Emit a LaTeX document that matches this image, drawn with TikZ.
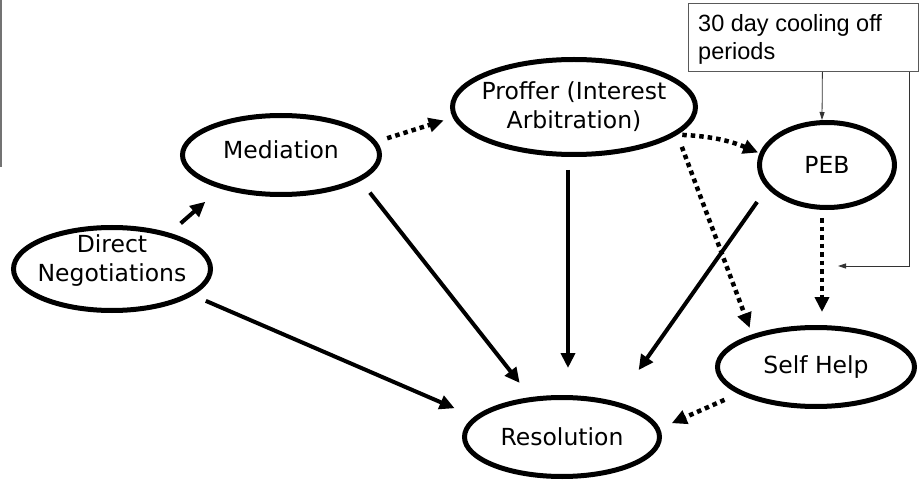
\documentclass[tikz,border=0pt]{standalone}
\usepackage{fontspec}
\newfontfamily\ovalfont{DejaVu Sans}
\newfontfamily\notefont{Liberation Sans}
\usetikzlibrary{shapes.geometric,arrows.meta,calc}

\begin{document}
\begin{tikzpicture}[x=1pt,y=-1pt,
  oval/.style={ellipse, draw, line width=5pt, inner xsep=-10pt, inner ysep=0pt, align=center,
               font=\ovalfont\fontsize{23.5}{29}\selectfont},
  flow/.style={line width=4pt, -{Triangle[length=15pt,width=14pt]}},
  maybe/.style={flow, line width=4.5pt, dash pattern=on 4.5pt off 4pt},
  notebox/.style={draw=black!65, line width=0.8pt},
  noteline/.style={draw=black!80, line width=0.8pt, -{Triangle[length=8pt,width=5pt]}}]

\useasboundingbox (0,0) rectangle (919,484);

% margin rule on the left edge
\draw[black!55, line width=1.5pt] (0.75,0) -- (0.75,167);

% stages of the dispute process
\node[oval, minimum width=197pt, minimum height=83pt, inner ysep=-6pt, text depth=21.5pt] (dn) at (112,269) {Direct\\Negotiations};
\node[oval, minimum width=197pt, minimum height=79pt, text depth=10pt] (med) at (281,155) {Mediation};
\node[oval, minimum width=243pt, minimum height=95pt] (prof) at (574,107) {Proffer (Interest\\Arbitration)};
\node[oval, minimum width=135pt, minimum height=85pt] (peb)  at (827,165) {PEB};
\node[oval, minimum width=197pt, minimum height=79pt] (sh)   at (816,367) {Self Help};
\node[oval, minimum width=195pt, minimum height=79pt] (res)  at (562,437) {Resolution};

% cooling-off note
\node[notebox, anchor=north west, minimum width=230pt, minimum height=68pt, inner sep=0pt] (coolbox) at (688,3) {};
\node[anchor=north west, inner sep=0pt, align=left,
      font=\notefont\fontsize{23.5}{28}\selectfont] (cooltext) at (698,14) {30 day cooling off\\periods};
\coordinate (cooltip) at (838,266);
\draw[noteline] ([xshift=19pt]coolbox.south) -- ([xshift=-5pt]peb.north);
\draw[noteline] ([xshift=-9pt]coolbox.south east) |- (cooltip);

% solid transitions
\draw[flow, shorten <=14.5pt, shorten >=20pt] (dn.32) -- (med.209);
\draw[flow, shorten <=15pt, shorten >=18pt] (med.-18) -- (res.128);
\draw[flow, shorten <=14pt, shorten >=21.5pt] (dn.-18) -- (res.167);
\draw[flow, shorten <=13pt, shorten >=27pt] ([xshift=-6pt]prof.south) -- ([xshift=6pt]res.north);
\draw[flow, shorten <=17pt, shorten >=38.7pt] (peb.201) -- (res.33);

% dotted transitions
\draw[maybe, shorten <=11pt, shorten >=9.5pt] (med.8) -- (prof.185);
\draw[maybe, shorten <=5pt, shorten >=1.5pt] (prof.-15) to[bend left=10] (peb.170);
\draw[maybe, shorten <=13pt, shorten >=7pt] (prof.-15) -- (sh.153);
\draw[maybe, shorten <=8pt, shorten >=13pt] ([xshift=-5pt]peb.south) -- ([xshift=6pt]sh.north);
\draw[maybe, shorten <=15pt, shorten >=13pt] (sh.199) -- (res.5);
\end{tikzpicture}
\end{document}
